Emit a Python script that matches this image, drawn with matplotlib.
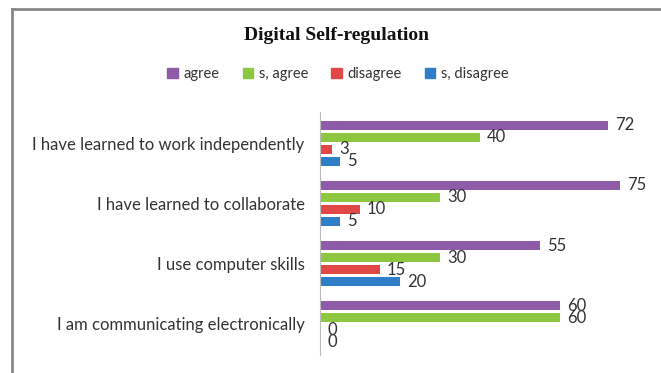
import matplotlib
matplotlib.use("Agg")
import matplotlib.pyplot as plt
from matplotlib.lines import Line2D
import numpy as np

categories = ["I have learned to work independently",
              "I have learned to collaborate",
              "I use computer skills",
              "I am communicating electronically"]
series_names = ["agree", "s, agree", "disagree", "s, disagree"]
agree = [72, 75, 55, 60]
s_agree = [40, 30, 30, 60]
disagree = [3, 10, 15, 0]
s_disagree = [5, 5, 20, 0]
colors = ["#8E5BA8", "#8DC63F", "#E04848", "#2F7FC8"]

plt.rcParams['font.family'] = ['Lato', 'DejaVu Sans']

fig = plt.figure(figsize=(6.61, 3.73), dpi=100)
ax = fig.add_axes([320/661, 1-355/373, 320/661, (355-112)/373])

series = [agree, s_agree, disagree, s_disagree]
offsets = [-0.3, -0.1, 0.1, 0.3]
y = np.arange(len(categories))
for vals, off, col, name in zip(series, offsets, colors, series_names):
    bars = ax.barh(y + off, vals, height=0.15, color=col, label=name)
    for b, v in zip(bars, vals):
        ax.annotate(str(v), (b.get_width(), b.get_y() + b.get_height()/2),
                    xytext=(7, 0), textcoords="offset pixels",
                    ha="left", va="center", fontsize=12, color="#333333")

ax.set_xlim(0, 80)
ax.set_ylim(3.52, -0.52)
ax.set_yticks(y)
ax.set_yticklabels(categories, fontsize=12, color="#333333")
ax.tick_params(axis='y', length=0, pad=11)
ax.set_xticks([])
for s in ["top", "right", "bottom"]:
    ax.spines[s].set_visible(False)
ax.spines["left"].set_color("#BBBBBB")

fig.text(336/661, 1-35/373, "Digital Self-regulation", ha="center", va="center",
         fontsize=14, fontweight="bold", family=["Liberation Serif"], color="#111111")

handles = [plt.Rectangle((0, 0), 1, 1, color=c) for c in colors]
fig.legend(handles, series_names, loc="center", bbox_to_anchor=(338/661, 1-74/373),
           ncol=4, frameon=False, fontsize=10.5, handlelength=0.7, handleheight=0.7,
           handletextpad=0.4, columnspacing=1.6, labelcolor="#333333")

fig.add_artist(Line2D([12/661, 1], [1-9/373, 1-9/373], color="#888888", lw=2))
fig.add_artist(Line2D([12/661, 12/661], [0, 1-9/373], color="#888888", lw=2))

fig.savefig("out.png", dpi=100)
